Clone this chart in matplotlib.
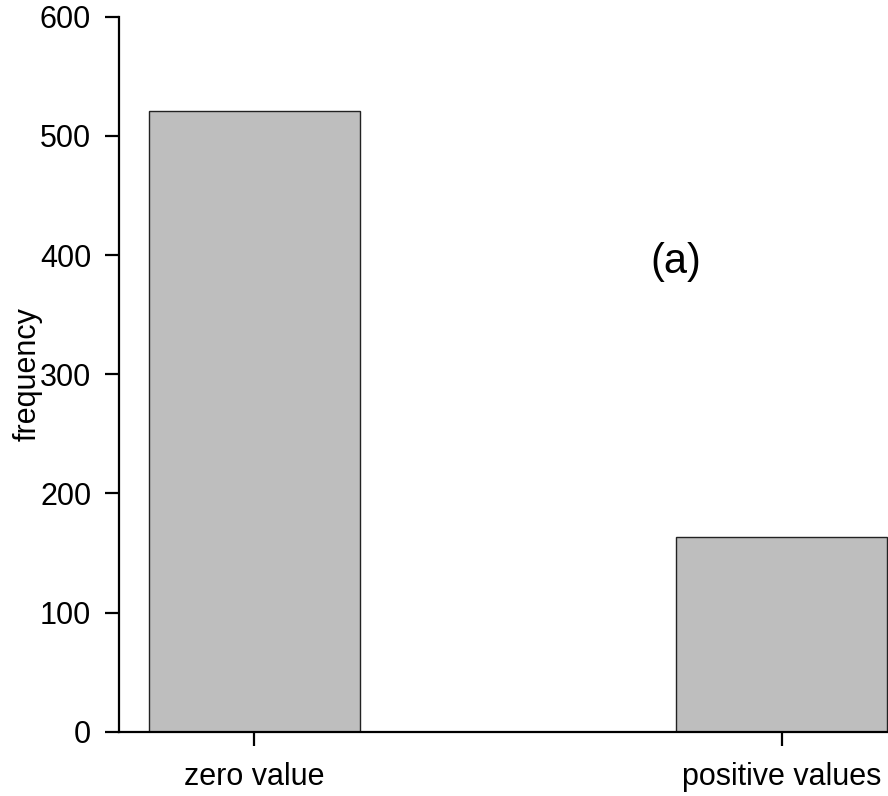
import matplotlib.pyplot as plt

plt.rcParams['font.family'] = ['Liberation Sans', 'DejaVu Sans']

categories = ['zero value', 'positive values']
frequency = [521, 163]
y_ticks = [0, 100, 200, 300, 400, 500, 600]

fig = plt.figure(figsize=(8.88, 7.96), dpi=100)
ax = fig.add_axes([0.134, 0.0808, 0.866, 0.979 - 0.0808])

x = range(len(categories))
ax.bar(x, frequency, width=0.4, color='#bebebe', edgecolor='#222222', linewidth=1.0)

ax.set_xlim(-0.257, 1.202)
ax.set_ylim(0, 600)
ax.set_xticks(list(x))
ax.set_xticklabels(categories)
ax.set_yticks(y_ticks)

ax.spines[['right', 'top']].set_visible(False)
for side in ['left', 'bottom']:
    ax.spines[side].set_linewidth(1.6)
ax.spines['left'].set_bounds(0, 600)
ax.tick_params(axis='both', direction='out', length=10, width=1.6, labelsize=22)
ax.tick_params(axis='y', pad=10)
ax.tick_params(axis='x', pad=12)

# axis title sits close in, overlapping the tick label column slightly
ylab = ax.set_ylabel('frequency', fontsize=22)
ylab.set_verticalalignment('center')
ax.yaxis.set_label_coords(-0.119, 0.50)

ax.text(0.80, 394, '(a)', fontsize=30, ha='center', va='center')

fig.savefig('out.png', dpi=100)
